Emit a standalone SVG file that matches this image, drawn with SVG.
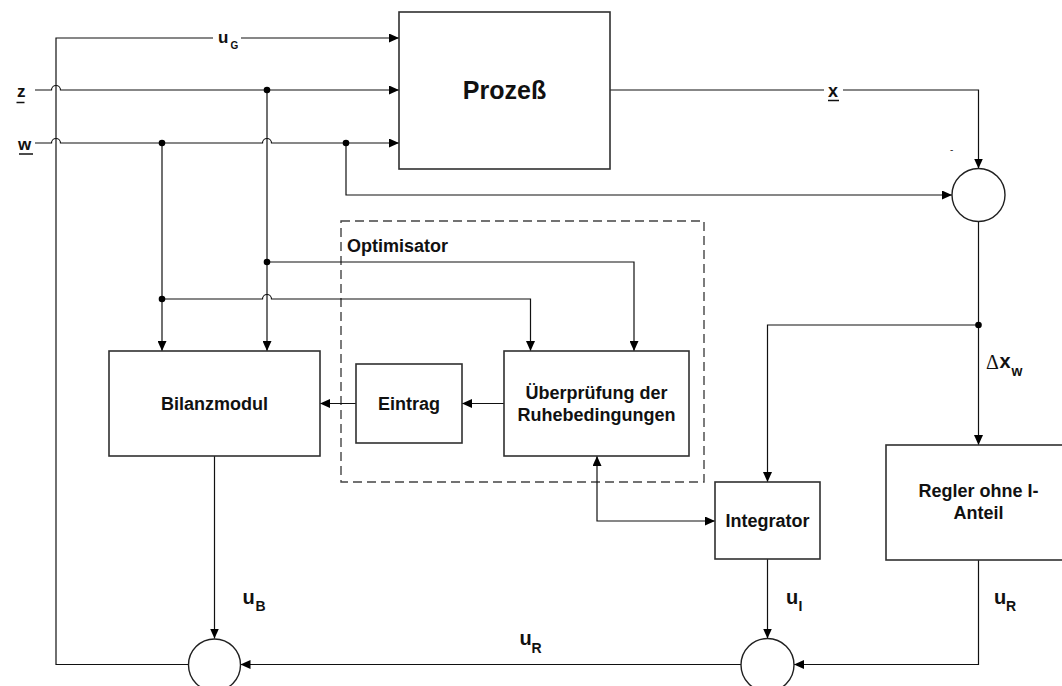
<svg xmlns="http://www.w3.org/2000/svg" width="1062" height="686" viewBox="0 0 1062 686">
  <style>
    .box { fill: #fff; stroke: #303030; stroke-width: 1.6; }
    .sum { fill: #fff; stroke: #202020; stroke-width: 1.4; }
    .wire { fill: none; stroke: #111; stroke-width: 1.2; }
    .arr { marker-end: url(#ah); }
    .dot { fill: #000; }
    .frame { fill: none; stroke: #444; stroke-width: 1.4; stroke-dasharray: 9 5; }
    .t { font-family: "Liberation Sans", Arial, sans-serif; font-weight: bold; font-size: 18px; fill: #111; }
    .c { text-anchor: middle; }
    .big { font-size: 25px; }
    .u { font-family: "Liberation Sans", Arial, sans-serif; font-weight: bold; font-size: 20px; fill: #111; }
    .sub { font-size: 14px; }
    .ul { stroke: #111; stroke-width: 1.5; }
  </style>
  <defs>
    <marker id="ah" markerUnits="userSpaceOnUse" markerWidth="10" markerHeight="9" refX="10" refY="4.5" orient="auto-start-reverse">
      <path d="M0,0 L10,4.5 L0,9 Z" fill="#000"/>
    </marker>
  </defs>

  <!-- optimiser frame -->
  <g id="optimisator">
    <rect class="frame" x="341" y="221" width="363" height="261"/>
    <text class="t" x="347" y="251.5">Optimisator</text>
  </g>

  <!-- connectors -->
  <g id="connectors">
    <!-- feedback of total control signal to the process -->
    <path class="wire arr" d="M188,664.5 H56 V38 H399"/>
    <!-- disturbance z -->
    <path class="wire arr" d="M35,90 H51.5 A4.5,4.5 0 0 1 60.5,90 H399"/>
    <!-- setpoint w -->
    <path class="wire arr" d="M35,143 H51.5 A4.5,4.5 0 0 1 60.5,143 H262.5 A4.5,4.5 0 0 1 271.5,143 H399"/>
    <!-- process output x -->
    <path class="wire arr" d="M610,90 H978.5 V168.5"/>
    <!-- w to comparator -->
    <path class="wire arr" d="M346,143 V195 H952"/>
    <!-- z and w into balance module -->
    <path class="wire arr" d="M267,90 V351"/>
    <path class="wire arr" d="M162,143 V351"/>
    <!-- z and w into rest-condition check -->
    <path class="wire arr" d="M267,262 H634 V351"/>
    <path class="wire arr" d="M162,299 H262.5 A4.5,4.5 0 0 1 271.5,299 H530.5 V351"/>
    <!-- control error -->
    <path class="wire arr" d="M978.5,221.5 V445"/>
    <path class="wire arr" d="M978.5,325 H767.5 V482"/>
    <!-- optimiser internals -->
    <path class="wire arr" d="M504,403.5 H462"/>
    <path class="wire arr" d="M356,403.5 H320"/>
    <path class="wire arr" d="M597,456 V521 H715" marker-start="url(#ah)"/>
    <!-- outputs into summation -->
    <path class="wire arr" d="M214.5,456 V638.5"/>
    <path class="wire arr" d="M767.5,559 V638.5"/>
    <path class="wire arr" d="M978.5,560 V664.5 H794"/>
    <path class="wire arr" d="M741,664.5 H240.5"/>
    <!-- junctions -->
    <circle class="dot" cx="267" cy="90" r="3.3"/>
    <circle class="dot" cx="162" cy="143" r="3.3"/>
    <circle class="dot" cx="346" cy="143" r="3.3"/>
    <circle class="dot" cx="267" cy="262" r="3.3"/>
    <circle class="dot" cx="162" cy="299" r="3.3"/>
    <circle class="dot" cx="978.5" cy="325" r="3.3"/>
  </g>

  <!-- signal labels -->
  <g id="labels">
    <rect x="213" y="30" width="28" height="20" fill="#fff"/>
    <text class="u" x="218" y="43" style="font-size:17px">u<tspan x="230.5" y="49" style="font-size:10px">G</tspan></text>
    <text class="u" x="17" y="97" style="font-size:17px">z</text>
    <line class="ul" x1="16.5" y1="102.5" x2="24.5" y2="102.5"/>
    <text class="u" x="18" y="150" style="font-size:17px">w</text>
    <line class="ul" x1="19" y1="154" x2="33" y2="154"/>
    <rect x="824" y="80" width="19" height="22" fill="#fff"/>
    <text class="u" x="828" y="97" style="font-size:18px">x</text>
    <line class="ul" x1="828" y1="100.5" x2="839" y2="100.5"/>
    <text x="950" y="153" style="font-family:'Liberation Sans',Arial,sans-serif;font-size:10px;fill:#333">-</text>
    <text x="986" y="368.5" style="font-family:'Liberation Serif','Times New Roman',serif;font-size:20px;fill:#111">Δ</text>
    <text class="u" x="999.5" y="368">x<tspan class="sub" x="1011.5" y="376">w</tspan></text>
    <text class="u" x="242.5" y="604">u<tspan class="sub" x="255.5" y="611">B</tspan></text>
    <text class="u" x="786" y="604">u<tspan class="sub" x="798.5" y="611">I</tspan></text>
    <text class="u" x="994" y="604">u<tspan class="sub" x="1006" y="611">R</tspan></text>
    <text class="u" x="519.5" y="645">u<tspan class="sub" x="531.5" y="653">R</tspan></text>
  </g>

  <!-- blocks -->
  <g id="prozess">
    <rect class="box" x="399" y="12" width="211" height="157"/>
    <text class="t c big" x="504.5" y="98.5">Prozeß</text>
  </g>
  <g id="bilanzmodul">
    <rect class="box" x="109" y="351" width="211" height="105"/>
    <text class="t c" x="214.5" y="410">Bilanzmodul</text>
  </g>
  <g id="eintrag">
    <rect class="box" x="356" y="364" width="106" height="79"/>
    <text class="t c" x="409" y="410">Eintrag</text>
  </g>
  <g id="ueberpruefung">
    <rect class="box" x="504" y="351" width="185" height="105"/>
    <text class="t c" x="596.5" y="399">Überprüfung der</text>
    <text class="t c" x="596.5" y="421">Ruhebedingungen</text>
  </g>
  <g id="integrator">
    <rect class="box" x="715" y="482" width="105" height="77"/>
    <text class="t c" x="767.5" y="527">Integrator</text>
  </g>
  <g id="regler">
    <rect class="box" x="886" y="445" width="185" height="115"/>
    <text class="t c" x="978.5" y="497">Regler ohne I-</text>
    <text class="t c" x="978.5" y="519">Anteil</text>
  </g>
  <g id="vergleicher">
    <circle class="sum" cx="978.5" cy="195" r="26.5"/>
  </g>
  <g id="summe-links">
    <circle class="sum" cx="214.5" cy="665" r="26"/>
  </g>
  <g id="summe-rechts">
    <circle class="sum" cx="767.5" cy="665" r="26.5"/>
  </g>
</svg>
